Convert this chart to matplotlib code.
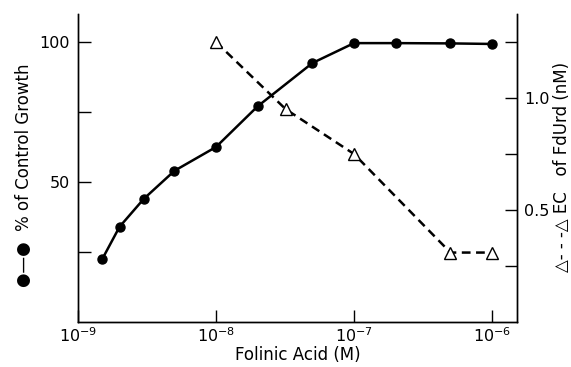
import matplotlib
matplotlib.use("Agg")
import matplotlib.pyplot as plt
import numpy as np

# Data
growth_conc = [1.5e-9, 2e-9, 3e-9, 5e-9, 1e-8, 2e-8, 5e-8, 1e-7, 2e-7, 5e-7, 1e-6]
growth_pct = [22.5, 34, 44, 54, 62.5, 77, 92.5, 99.6, 99.6, 99.5, 99.3]

ec_conc = [1e-8, 3.2e-8, 1e-7, 5e-7, 1e-6]
ec_nM = [1.25, 0.95, 0.75, 0.31, 0.31]

xticks = [1e-9, 1e-8, 1e-7, 1e-6]
xticklabels = [r"$10^{-9}$", r"$10^{-8}$", r"$10^{-7}$", r"$10^{-6}$"]
left_ticks = [25, 50, 75, 100]
left_labels = ["", "50", "", "100"]
right_ticks = [0.25, 0.5, 0.75, 1.0, 1.25]
right_labels = ["", "0.5", "", "1.0", ""]

plt.rcParams['font.family'] = ['DejaVu Sans']

fig = plt.figure(figsize=(5.71, 3.67), dpi=100)
ax = fig.add_axes([78/571, 1-322/367, (517-78)/571, (322-14)/367])
ax2 = ax.twinx()

ax.plot(growth_conc, growth_pct, color='black', lw=1.8, marker='o', ms=6.5,
        mfc='black', mec='black', zorder=3)
ax2.plot(ec_conc, ec_nM, color='black', lw=1.8, ls=(0, (3.5, 2.2)), marker='^',
         ms=8, mfc='white', mec='black', mew=1.0, zorder=3)

ax.set_xscale('log')
ax.set_xlim(1e-9, 10**(-6 + 25/138))
ax.set_ylim(0, 110)
ax2.set_ylim(0, 1.375)

ax.set_xticks(xticks)
ax.set_xticklabels(xticklabels)
ax.xaxis.set_minor_locator(matplotlib.ticker.NullLocator())
ax.set_yticks(left_ticks)
ax.set_yticklabels(left_labels)
ax2.set_yticks(right_ticks)
ax2.set_yticklabels(right_labels)

for a in (ax, ax2):
    a.spines['top'].set_visible(False)
    for s in a.spines.values():
        s.set_linewidth(1.0)
ax.tick_params(axis='both', direction='in', length=9, width=1.0, labelsize=11.5, pad=6)
ax.tick_params(axis='x', pad=3)
ax2.tick_params(axis='y', direction='in', length=9, width=1.0, labelsize=11.5, pad=5)

ax.set_xlabel("Folinic Acid (M)", fontsize=12, labelpad=1)

fig.text(24/571, 1-175/367, "●—●  % of Control Growth", rotation=90,
         ha='center', va='center', fontsize=12)
fig.text(562/571, 1-167/367, "△- - -△ EC   of FdUrd (nM)", rotation=90,
         ha='center', va='center', fontsize=12)

fig.savefig("out.png", dpi=100)
